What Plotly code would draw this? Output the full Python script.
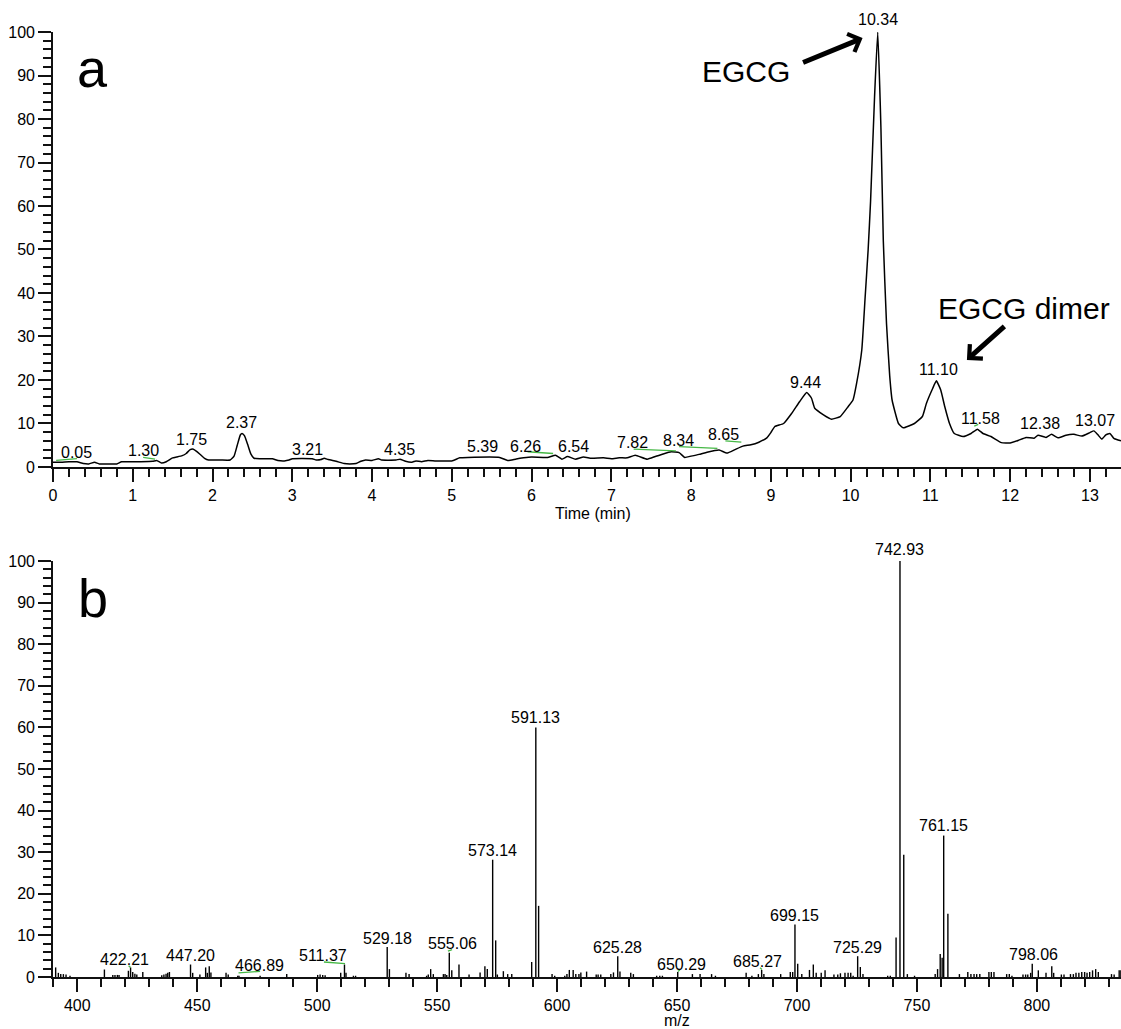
import plotly.graph_objects as go

# ---------------- data: chromatogram (panel a) ----------------
chrom_time = [0.0, 0.1, 0.2, 0.3, 0.38, 0.45, 0.52, 0.58, 0.7, 0.8, 0.86, 1.0, 1.1, 1.25, 1.3, 1.36, 1.42,
              1.5, 1.55, 1.62, 1.67, 1.72, 1.76, 1.8, 1.85, 1.9, 1.95, 2.1, 2.22, 2.27, 2.31, 2.35, 2.37,
              2.40, 2.44, 2.48, 2.52, 2.6, 2.75, 2.82, 2.9, 2.96, 3.0, 3.25, 3.3, 3.36, 3.4, 3.45, 3.55,
              3.65, 3.72, 3.8, 3.86, 3.92, 4.0, 4.08, 4.12, 4.3, 4.35, 4.42, 4.5, 4.55, 4.62, 4.7, 4.8,
              5.0, 5.1, 5.2, 5.6, 5.7, 5.8, 5.9, 6.0, 6.2, 6.3, 6.38, 6.45, 6.55, 6.65, 6.75, 6.9, 7.0,
              7.1, 7.2, 7.3, 7.45, 7.55, 7.65, 7.75, 7.85, 7.92, 8.0, 8.1, 8.2, 8.35, 8.45, 8.55, 8.65,
              8.75, 8.85, 8.95, 9.0, 9.05, 9.16, 9.26, 9.36, 9.45, 9.51, 9.55, 9.66, 9.76, 9.87, 9.97,
              10.03, 10.075, 10.14, 10.18, 10.22, 10.25, 10.30, 10.34, 10.38, 10.41, 10.45, 10.49, 10.52,
              10.6, 10.66, 10.8, 10.9, 10.95, 11.03, 11.075, 11.13, 11.18, 11.24, 11.30, 11.41, 11.51,
              11.59, 11.66, 11.76, 11.89, 12.0, 12.1, 12.2, 12.3, 12.35, 12.45, 12.52, 12.6, 12.7, 12.8,
              12.9, 13.0, 13.05, 13.1, 13.15, 13.2, 13.25, 13.3, 13.39]
chrom_intensity = [1.1, 1.1, 1.2, 1.2, 0.8, 0.7, 1.1, 0.7, 0.7, 0.7, 1.2, 1.2, 1.2, 1.3, 1.5, 0.9, 1.2,
                   2.1, 2.3, 2.6, 3.1, 4.0, 4.1, 3.6, 2.8, 2.0, 1.6, 1.6, 1.6, 2.5, 5.0, 7.4, 7.7,
                   7.2, 5.2, 3.0, 2.0, 1.9, 1.9, 1.5, 1.4, 1.6, 1.9, 1.9, 1.6, 1.7, 2.0, 1.7, 1.3,
                   0.8, 0.7, 0.8, 1.3, 1.6, 1.5, 1.9, 1.6, 1.6, 1.8, 1.3, 1.1, 1.4, 1.2, 1.5, 1.4,
                   1.4, 2.1, 2.2, 2.2, 1.5, 1.8, 2.1, 2.3, 2.2, 2.7, 1.8, 2.4, 1.8, 2.3, 2.0, 2.1, 1.9,
                   2.1, 2.1, 2.7, 1.8, 2.4, 3.0, 3.5, 3.3, 2.2, 2.5, 2.9, 3.4, 3.9, 3.2, 4.0, 4.8,
                   5.1, 5.7, 6.7, 7.9, 9.3, 10.0, 12.3, 15.0, 17.1, 15.8, 13.5, 12.0, 11.0, 11.6, 13.9,
                   15.4, 19.2, 26.9, 38.4, 50.0, 61.0, 85.0, 100.0, 78.0, 52.0, 33.0, 21.0, 15.4,
                   10.0, 9.0, 10.0, 11.6, 14.6, 18.1, 19.8, 17.7, 13.9, 10.0, 7.7, 7.0, 7.7,
                   8.7, 7.7, 7.0, 5.6, 5.5, 6.1, 6.8, 6.6, 7.3, 6.8, 7.5, 6.7, 7.3, 7.5,
                   7.1, 7.9, 8.3, 7.4, 6.4, 7.4, 7.7, 6.6, 6.0]
chrom_peak_labels = ["0.05", "1.30", "1.75", "2.37", "3.21", "4.35", "5.39", "6.26", "6.54", "7.82",
                     "8.34", "8.65", "9.44", "10.34", "11.10", "11.58", "12.38", "13.07"]

# ---------------- data: mass spectrum (panel b) ----------------
spec_mz = [390.98, 392.1, 393.1, 394.2, 395.3, 396.96, 411.3, 414.8, 415.7, 416.7, 417.4, 421.3, 422.21,
           423.1, 424.0, 424.8, 427.3, 435.2, 436.1, 437.0, 437.7, 438.4, 447.20, 448.1, 451.1, 453.5,
           454.2, 455.0, 455.7, 462.0, 462.9, 466.89, 467.4, 476.2, 487.3, 500.2, 501.2, 502.3, 503.3,
           509.8, 511.37, 512.0, 515.1, 516.0, 529.18, 530.1, 537.0, 538.3, 545.6, 546.3, 547.3, 548.4,
           552.6, 553.3, 554.0, 555.06, 556.1, 559.1, 563.3, 567.9, 569.9, 570.9, 573.14, 574.4, 575.1,
           577.6, 579.4, 581.1, 589.4, 591.13, 592.3, 597.9, 599.0, 603.2, 604.1, 605.1, 606.7, 607.8,
           609.1, 609.9, 612.3, 616.3, 617.1, 618.2, 622.4, 623.5, 625.28, 626.2, 630.7, 631.8, 641.5,
           642.8, 643.9, 650.29, 656.4, 659.6, 664.4, 666.0, 678.8, 681.2, 683.9, 685.27, 686.2, 693.2,
           697.2, 698.2, 699.15, 700.3, 702.0, 705.2, 706.8, 708.0, 710.1, 711.7, 715.4, 717.0, 718.1,
           720.0, 721.3, 722.4, 723.4, 725.29, 726.4, 727.5, 737.8, 738.9, 741.3, 742.93, 744.5, 746.0,
           749.0, 757.6, 758.6, 759.7, 760.5, 761.15, 762.9, 767.7, 771.2, 772.5, 773.8, 774.9, 776.2,
           780.0, 781.0, 782.1, 787.4, 788.5, 789.6, 794.2, 795.3, 796.2, 797.4, 798.06, 800.6, 803.8,
           806.2, 807.0, 810.2, 811.3, 814.0, 815.2, 816.3, 817.5, 818.7, 819.9, 820.9, 822.0, 823.2,
           824.5, 825.6, 831.1, 832.2, 834.3, 835.0]
spec_intensity = [2.3, 1.0, 0.7, 0.7, 0.6, 0.3, 1.8, 0.5, 0.5, 0.5, 0.5, 1.5, 2.3,
                  1.2, 0.8, 0.6, 1.2, 0.4, 0.6, 0.8, 1.0, 1.2, 3.0, 1.0, 0.6, 2.3,
                  1.0, 2.6, 1.1, 1.0, 0.6, 0.3, 0.3, 0.3, 0.7, 0.5, 0.6, 0.5, 0.4,
                  1.0, 3.0, 1.0, 0.3, 0.3, 7.2, 1.9, 1.0, 0.7, 0.3, 0.6, 1.9, 0.7,
                  0.7, 0.7, 0.5, 5.8, 1.6, 3.0, 0.6, 1.1, 2.6, 1.9, 28.2, 8.8, 0.6,
                  1.4, 0.7, 0.7, 3.6, 60.0, 17.1, 0.7, 0.3, 0.3, 0.7, 1.7, 1.7, 0.7,
                  0.7, 1.1, 1.3, 0.6, 0.6, 0.6, 0.7, 1.1, 5.0, 1.3, 1.0, 0.7, 0.3,
                  0.3, 0.3, 1.2, 0.7, 0.7, 0.7, 0.3, 1.0, 0.3, 0.7, 1.7, 0.7, 0.7,
                  1.2, 1.2, 12.6, 3.2, 0.7, 1.7, 3.0, 1.0, 1.0, 1.6, 0.6, 0.6, 0.9,
                  1.0, 1.0, 1.0, 0.3, 5.0, 2.4, 0.7, 0.3, 0.3, 9.5, 100.0, 29.4, 0.7,
                  0.3, 0.7, 1.9, 5.5, 4.6, 34.0, 15.2, 0.7, 1.2, 0.7, 0.7, 0.7, 0.7,
                  1.2, 1.2, 1.2, 0.7, 0.7, 0.3, 0.6, 0.6, 0.6, 1.0, 3.2, 1.6, 1.0,
                  2.6, 1.0, 0.6, 0.6, 0.7, 0.7, 1.0, 1.0, 1.2, 1.2, 1.0, 1.2, 1.6,
                  1.9, 1.2, 0.7, 0.6, 1.6, 1.6]
spec_peak_labels = ["422.21", "447.20", "466.89", "511.37", "529.18", "555.06", "573.14", "591.13",
                    "625.28", "650.29", "685.27", "699.15", "725.29", "742.93", "761.15", "798.06"]

# ---------------- placement (layout, not data) ----------------
# label centre positions in axis units; labels above the plotted range are given in paper units
chrom_label_pos = [(0.30, 3.3), (1.13, 3.75), (1.74, 6.4), (2.36, 10.3), (3.19, 4.1), (4.34, 4.1),
                   (5.38, 4.7), (5.93, 4.7), (6.52, 4.7), (7.27, 5.7), (7.84, 6.0), (8.41, 7.5),
                   (9.44, 19.4), (10.34, "top"), (11.10, 22.3), (11.63, 11.2), (12.38, 9.9), (13.06, 10.6)]
spec_label_pos = [(419.8, 4.2), (447.2, 5.1), (475.9, 2.7), (502.5, 5.2), (529.2, 9.3), (556.5, 8.0),
                  (573.1, 30.4), (591.13, 62.4), (625.28, 7.1), (651.8, 3.0), (683.4, 3.75), (699.0, 14.7),
                  (725.1, 7.1), (742.93, "top"), (761.15, 36.4), (798.4, 5.4)]
chrom_connectors = [((0.04, 1.5), (0.30, 1.9)), ((1.13, 2.2), (1.28, 1.8)), ((5.95, 3.5), (6.27, 3.1)),
                    ((7.28, 4.1), (7.81, 3.7)), ((7.85, 4.7), (8.33, 4.3)), ((8.43, 6.0), (8.63, 5.7)),
                    ((11.55, 9.4), (11.6, 9.8))]
spec_connectors = [((421.4, 2.7), (422.2, 2.3)), ((467.2, 1.0), (476.2, 1.35)), ((502.8, 3.6), (511.6, 3.2)),
                   ((554.5, 6.2), (556.2, 6.6)), ((650.3, 1.3), (651.2, 1.7)), ((684.6, 2.2), (685.4, 1.8))]

FONT = "Arial, Liberation Sans, sans-serif"
AX = "#111111"
GREEN = "#45b845"
PLOT_TOP, PLOT_BOTTOM, PLOT_LEFT, PLOT_W = 32, 977, 53, 1068


def px_x(px):
    return (px - PLOT_LEFT) / PLOT_W


def px_y(py):
    return (PLOT_BOTTOM - py) / (PLOT_BOTTOM - PLOT_TOP)


fig = go.Figure()

# chromatogram
fig.add_trace(go.Scatter(x=chrom_time, y=chrom_intensity, mode="lines", xaxis="x", yaxis="y",
                         line=dict(color="black", width=1.5, shape="spline", smoothing=0.4),
                         cliponaxis=False, showlegend=False, hoverinfo="skip"))
for (a, b) in chrom_connectors:
    fig.add_trace(go.Scatter(x=[a[0], b[0]], y=[a[1], b[1]], mode="lines", xaxis="x", yaxis="y",
                             line=dict(color=GREEN, width=1.3), showlegend=False, hoverinfo="skip"))

# spectrum sticks
sx, sy = [], []
for m, v in zip(spec_mz, spec_intensity):
    sx += [m, m, None]
    sy += [0, v, None]
fig.add_trace(go.Scatter(x=sx, y=sy, mode="lines", xaxis="x2", yaxis="y2",
                         line=dict(color="black", width=1.4), cliponaxis=False,
                         showlegend=False, hoverinfo="skip"))
for (a, b) in spec_connectors:
    fig.add_trace(go.Scatter(x=[a[0], b[0]], y=[a[1], b[1]], mode="lines", xaxis="x2", yaxis="y2",
                             line=dict(color=GREEN, width=1.3), showlegend=False, hoverinfo="skip"))

label_font = dict(family=FONT, size=16, color="black")
annotations = []
for txt, (x, y) in zip(chrom_peak_labels, chrom_label_pos):
    if y == "top":
        annotations.append(dict(x=x, y=px_y(19.5), xref="x", yref="paper", text=txt, showarrow=False,
                                xanchor="center", yanchor="middle", font=label_font))
    else:
        annotations.append(dict(x=x, y=y, xref="x", yref="y", text=txt, showarrow=False,
                                xanchor="center", yanchor="middle", font=label_font))
for txt, (x, y) in zip(spec_peak_labels, spec_label_pos):
    if y == "top":
        annotations.append(dict(x=x, y=px_y(549), xref="x2", yref="paper", text=txt, showarrow=False,
                                xanchor="center", yanchor="middle", font=label_font))
    else:
        annotations.append(dict(x=x, y=y, xref="x2", yref="y2", text=txt, showarrow=False,
                                xanchor="center", yanchor="middle", font=label_font))

# panel letters
annotations.append(dict(x=px_x(92), y=px_y(68), xref="paper", yref="paper", text="a",
                        showarrow=False, xanchor="center", yanchor="middle",
                        font=dict(family=FONT, size=54, color="black")))
annotations.append(dict(x=px_x(93), y=px_y(598), xref="paper", yref="paper", text="b",
                        showarrow=False, xanchor="center", yanchor="middle",
                        font=dict(family=FONT, size=54, color="black")))

# EGCG labels and arrows
annotations.append(dict(x=8.69, y=91.0, xref="x", yref="y", text="EGCG", showarrow=False,
                        xanchor="center", yanchor="middle", font=dict(family=FONT, size=30, color="black")))
annotations.append(dict(x=10.15, y=98.6, xref="x", yref="y", text="", showarrow=True,
                        ax=-61, ay=25, arrowhead=4, arrowsize=0.75, arrowwidth=5, arrowcolor="black"))
annotations.append(dict(x=12.17, y=36.5, xref="x", yref="y", text="EGCG dimer", showarrow=False,
                        xanchor="center", yanchor="middle", font=dict(family=FONT, size=30, color="black")))
annotations.append(dict(x=11.458, y=24.6, xref="x", yref="y", text="", showarrow=True,
                        ax=39, ay=-35, arrowhead=4, arrowsize=0.75, arrowwidth=5, arrowcolor="black"))

# axis titles
annotations.append(dict(x=px_x(593), y=px_y(513), xref="paper", yref="paper",
                        text="Time (min)", showarrow=False, xanchor="center", yanchor="middle",
                        font=dict(family=FONT, size=16, color="black")))
annotations.append(dict(x=px_x(677), y=px_y(1020), xref="paper", yref="paper",
                        text="m/z", showarrow=False, xanchor="center", yanchor="middle",
                        font=dict(family=FONT, size=16, color="black")))

axis_common = dict(showline=True, linecolor=AX, linewidth=1.6, showgrid=False, zeroline=False,
                   ticks="outside", ticklen=13, tickwidth=1.6, tickcolor=AX,
                   tickfont=dict(family=FONT, size=16, color="black"))
minor_common = dict(ticks="outside", ticklen=8, tickwidth=1.6, tickcolor=AX)

fig.update_layout(
    width=1121, height=1029,
    margin=dict(l=53, r=0, t=32, b=52),
    paper_bgcolor="white", plot_bgcolor="white",
    showlegend=False,
    annotations=annotations,
    xaxis=dict(domain=[0, 1], anchor="y", range=[0, 13.39], tick0=0, dtick=1,
               minor=dict(dtick=0.2, tick0=0, **minor_common), **axis_common),
    yaxis=dict(domain=[0.5397, 1], anchor="x", range=[0, 100], tick0=0, dtick=10,
               minor=dict(dtick=2, tick0=0, **minor_common), **axis_common),
    xaxis2=dict(domain=[0, 1], anchor="y2", range=[389.87, 835.06], tick0=0, dtick=50,
                minor=dict(dtick=10, tick0=0, **minor_common), **axis_common),
    yaxis2=dict(domain=[0, 0.4402], anchor="x2", range=[0, 100], tick0=0, dtick=10,
                minor=dict(dtick=2, tick0=0, **minor_common), **axis_common),
)

fig.write_html("out.html")
